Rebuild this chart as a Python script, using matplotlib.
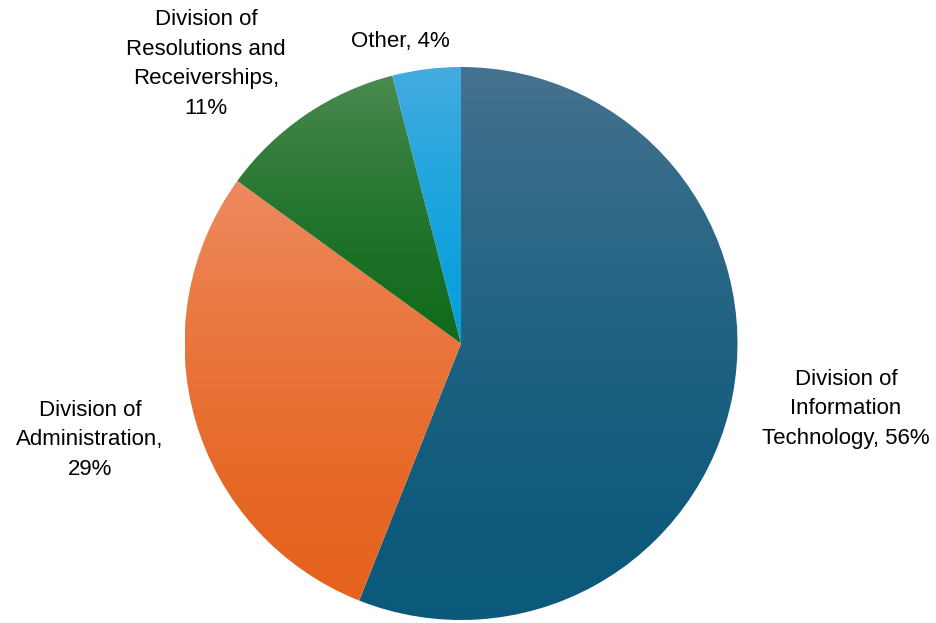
import matplotlib.pyplot as plt
import numpy as np
from matplotlib.colors import LinearSegmentedColormap

# Data
labels = ['Division of\nInformation\nTechnology, 56%',
          'Division of\nAdministration,\n29%',
          'Division of\nResolutions and\nReceiverships,\n11%',
          'Other, 4%']
values = [56, 29, 11, 4]

# gradient colours (top, bottom) for each slice
top_colors = ['#45728F', '#EE8A5F', '#4A8A50', '#45ACE0']
bottom_colors = ['#0B597B', '#E5631E', '#126B1D', '#07A0DC']

# label positions in pixels (x, y from top)
label_pos = [(846, 409), (90, 440), (206, 64), (400, 41)]

W, H = 936, 623
fig = plt.figure(figsize=(W / 100, H / 100), dpi=100)
ax = fig.add_axes([0, 0, 1, 1])

cx, cy, r = 461, H - 343.5, 276.5
wedges, _ = ax.pie(values, startangle=90, counterclock=False,
                   center=(cx, cy), radius=r, frame=True)

ax.set_xlim(0, W)
ax.set_ylim(0, H)
ax.set_aspect('equal')
ax.axis('off')

# fill each wedge with a vertical gradient clipped to its shape
for w, c_top, c_bot in zip(wedges, top_colors, bottom_colors):
    w.set_facecolor('none')
    w.set_edgecolor('none')
    bb = w.get_path().get_extents()
    cmap = LinearSegmentedColormap.from_list('g', [c_bot, c_top])
    grad = (np.linspace(0, 1, 256) ** 1.5).reshape(-1, 1)
    im = ax.imshow(grad, cmap=cmap, origin='lower', aspect='auto', vmin=0, vmax=1,
                   extent=(bb.x0, bb.x1, bb.y0, bb.y1), interpolation='bilinear')
    im.set_clip_path(w)

for lab, (x, y) in zip(labels, label_pos):
    ax.text(x, H - y, lab, ha='center', va='center', fontsize=16,
            family='Liberation Sans', color='#000000', linespacing=1.55)

ax.set_xlim(0, W)
ax.set_ylim(0, H)

fig.savefig('out.png', dpi=100)
